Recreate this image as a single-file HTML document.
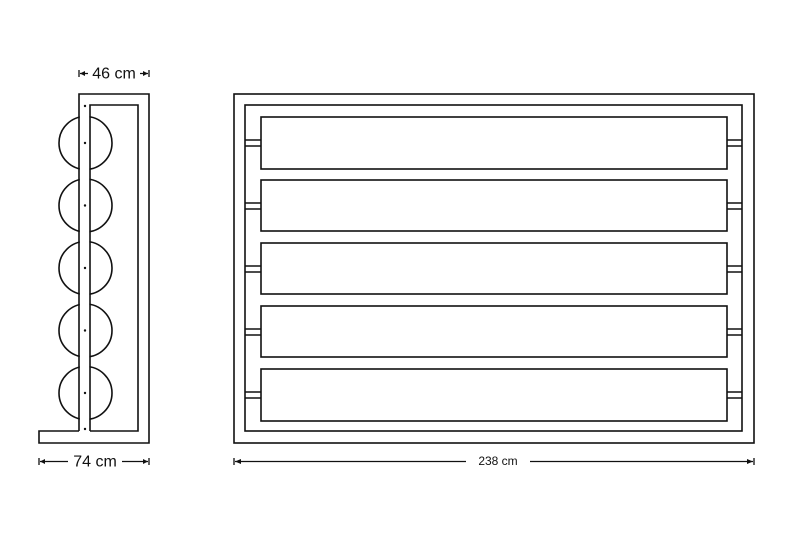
<!DOCTYPE html>
<html><head><style>html,body{margin:0;padding:0;background:#fff}</style></head>
<body>
<svg width="800" height="533" viewBox="0 0 800 533" xmlns="http://www.w3.org/2000/svg">
<g fill="none" stroke="#111" stroke-width="1.6">
  <circle cx="85.5" cy="143" r="26.5"/>
  <circle cx="85.5" cy="205.5" r="26.5"/>
  <circle cx="85.5" cy="268" r="26.5"/>
  <circle cx="85.5" cy="330.5" r="26.5"/>
  <circle cx="85.5" cy="393" r="26.5"/>
</g>
<rect x="79.8" y="94.8" width="9.6" height="336" fill="#fff"/>
<g fill="none" stroke="#111" stroke-width="1.6">
  <path d="M79 431 V94 H149 V443 H39 V431 H79"/>
  <path d="M90 431 V105 H138 V431 H90"/>
</g>
<g fill="#111">
  <circle cx="85" cy="106" r="1.2"/><circle cx="85" cy="143" r="1.2"/>
  <circle cx="85" cy="205.5" r="1.2"/><circle cx="85" cy="268" r="1.2"/>
  <circle cx="85" cy="330.5" r="1.2"/><circle cx="85" cy="393" r="1.2"/>
  <circle cx="85" cy="429" r="1.2"/>
</g>
<g fill="none" stroke="#111" stroke-width="1.6">
  <rect x="234" y="94" width="520" height="349"/>
  <rect x="245" y="105" width="497" height="326"/>
  <rect x="261" y="117" width="466" height="52"/>
  <rect x="261" y="180" width="466" height="51"/>
  <rect x="261" y="243" width="466" height="51"/>
  <rect x="261" y="306" width="466" height="51"/>
  <rect x="261" y="369" width="466" height="52"/>
  <path d="M245 140H261M245 146H261M727 140H742M727 146H742"/>
  <path d="M245 203H261M245 209H261M727 203H742M727 209H742"/>
  <path d="M245 266H261M245 272H261M727 266H742M727 272H742"/>
  <path d="M245 329H261M245 335H261M727 329H742M727 335H742"/>
  <path d="M245 392H261M245 398H261M727 392H742M727 398H742"/>
</g>
<g stroke="#111" stroke-width="1.3" fill="#111">
  <path d="M79 70V77M149 70V77M80 73.5H88M140 73.5H148" fill="none"/>
  <path d="M80 73.5l5-2.5v5zM148 73.5l-5-2.5v5z" stroke="none"/>
  <path d="M39 458V465M149 458V465M40 461.5H68M122 461.5H148" fill="none"/>
  <path d="M40 461.5l5-2.5v5zM148 461.5l-5-2.5v5z" stroke="none"/>
  <path d="M234 458V465M754 458V465M235 461.5H466M530 461.5H753" fill="none"/>
  <path d="M235 461.5l6-2.5v5zM753 461.5l-6-2.5v5z" stroke="none"/>
</g>
<g font-family="Liberation Sans, sans-serif" fill="#111">
  <text x="114" y="78.5" font-size="16" text-anchor="middle">46 cm</text>
  <text x="95" y="466.5" font-size="16" text-anchor="middle">74 cm</text>
  <text x="498" y="465" font-size="12" text-anchor="middle">238 cm</text>
</g>
</svg>
</body></html>
